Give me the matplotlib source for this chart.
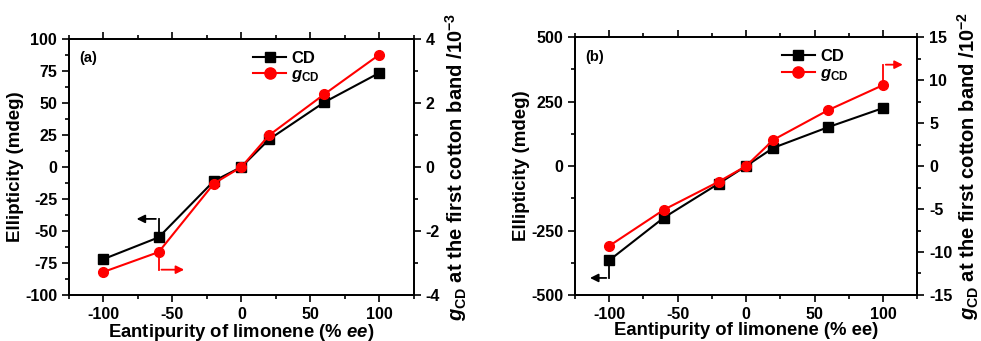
import matplotlib.pyplot as plt
import numpy as np

plt.rcParams['font.family'] = ['Liberation Sans', 'DejaVu Sans']
plt.rcParams['font.weight'] = 'bold'
plt.rcParams['axes.unicode_minus'] = False
plt.rcParams['mathtext.fontset'] = 'custom'
plt.rcParams['mathtext.rm'] = 'Liberation Sans:bold'
plt.rcParams['mathtext.it'] = 'Liberation Sans:bold:italic'
plt.rcParams['mathtext.bf'] = 'Liberation Sans:bold'

ee = [-100, -60, -20, 0, 20, 60, 100]
cd_a = [-72, -55, -11, 0, 21.5, 50.5, 73.5]
g_a = [-3.28, -2.66, -0.52, 0, 0.99, 2.27, 3.51]
cd_b = [-366, -200, -68, 0, 71, 151, 225]
g_b = [-9.3, -5.08, -1.82, 0, 3.06, 6.51, 9.42]

fig = plt.figure(figsize=(9.81, 3.41), dpi=100)
ax1 = fig.add_axes([0.0703, 0.135, 0.3517, 0.751])
ax2 = fig.add_axes([0.586, 0.135, 0.349, 0.756])


def style(ax, ymaj, ymin):
    ax.tick_params(which='both', direction='out', labelsize=11.5, width=1.2)
    ax.tick_params(which='major', length=5)
    ax.tick_params(which='minor', length=3)
    ax.set_yticks(ymaj)
    ax.set_yticks(ymin, minor=True)
    for s in ax.spines.values():
        s.set_linewidth(1.3)


def panel(ax, cd, g, ylim, yt, ytm, glim, gt, gtm, exp, tag, xlab, legx):
    ax.plot(ee, cd, '-s', color='black', lw=1.5, ms=6.5, label='CD')
    ax.set_xlim(-125, 125)
    ax.set_ylim(*ylim)
    ax.set_xticks([-100, -50, 0, 50, 100])
    ax.set_xticks(np.arange(-125, 126, 25), minor=True)
    ax.tick_params(top=True, which='both')
    style(ax, yt, ytm)
    ax.set_ylabel('Ellipticity (mdeg)', fontsize=13.5, fontweight='bold', labelpad=1)
    ax.set_xlabel(xlab, fontsize=13.3, fontweight='bold', labelpad=0)
    ax.text(0.03, 0.925, tag, transform=ax.transAxes, fontsize=10.5, fontweight='bold', va='center')

    ax2_ = ax.twinx()
    ax2_.plot(ee, g, '-o', color='red', lw=1.5, ms=7, label='$g_{\\mathrm{CD}}$')
    ax2_.set_ylim(*glim)
    style(ax2_, gt, gtm)
    ax2_.set_ylabel('$g_{\\mathrm{CD}}$ at the first cotton band /10$^{-%d}$' % exp,
                    fontsize=14.5, fontweight='bold', labelpad=2)
    h1, l1 = ax.get_legend_handles_labels()
    h2, l2 = ax2_.get_legend_handles_labels()
    ax.legend(h1 + h2, l1 + l2, loc='upper left', bbox_to_anchor=(legx, 1.0),
              frameon=False, fontsize=12, handlelength=2.0, handletextpad=0.3,
              labelspacing=0.1, borderaxespad=0.3, markerscale=1.15)
    return ax2_


r1 = panel(ax1, cd_a, g_a, (-100, 100), np.arange(-100, 101, 25), np.arange(-100, 101, 12.5),
           (-4, 4), [-4, -2, 0, 2, 4], np.arange(-4, 4.1, 1), 3, '(a)',
           'Eantipurity of limonene (% $ee$)', 0.5)
r2 = panel(ax2, cd_b, g_b, (-500, 500), [-500, -250, 0, 250, 500], np.arange(-500, 501, 125),
           (-15, 15), np.arange(-15, 16, 5), np.arange(-15, 16, 2.5), 2, '(b)',
           'Eantipurity of limonene (% ee)', 0.57)

arr = dict(arrowstyle='-|>', lw=1.3, mutation_scale=12)
# panel (a) arrows
ax1.plot([-60, -60], [cd_a[1], -40.6], color='black', lw=1.3)
ax1.annotate('', xy=(-78, -40.6), xytext=(-60, -40.6), arrowprops=dict(color='black', **arr))
r1.plot([-60, -60], [g_a[1], -3.21], color='red', lw=1.3)
r1.annotate('', xy=(-39.5, -3.21), xytext=(-60, -3.21), arrowprops=dict(color='red', **arr))
# panel (b) arrows
ax2.plot([-100, -100], [cd_b[0], -434], color='black', lw=1.3)
ax2.annotate('', xy=(-116, -434), xytext=(-100, -434), arrowprops=dict(color='black', **arr))
r2.plot([100, 100], [g_b[-1], 11.8], color='red', lw=1.3)
r2.annotate('', xy=(116.5, 11.8), xytext=(100, 11.8), arrowprops=dict(color='red', **arr))

fig.savefig('out.png', dpi=100)
